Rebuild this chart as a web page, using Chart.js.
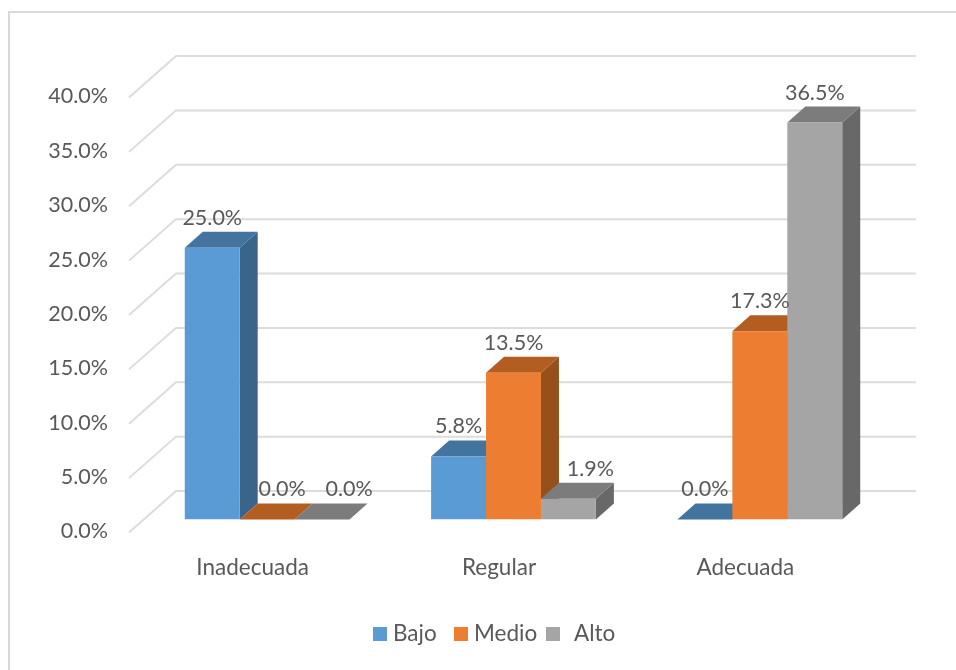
<!DOCTYPE html>
<html>
<head>
<meta charset="utf-8">
<title>Chart</title>
<script src="https://cdn.jsdelivr.net/npm/chart.js@4/dist/chart.umd.js"></script>
<style>
    html, body { margin: 0; padding: 0; background: #fff; overflow: hidden; }
    #wrap { position: relative; width: 956px; height: 670px; }
    #frame { position: absolute; left: 8px; top: 11px; right: 0; bottom: 0; border-left: 2px solid #d9d9d9; border-top: 2px solid #d9d9d9; }
    canvas { position: absolute; left: 0; top: 0; filter: blur(0.4px); }
</style>
</head>
<body>
<div id="wrap">
    <div id="frame"></div>
    <canvas id="chart" width="956" height="670"></canvas>
</div>
<script>
const categories = ['Inadecuada', 'Regular', 'Adecuada'];
const bajo = [25.0, 5.8, 0.0];
const medio = [0.0, 13.5, 17.3];
const alto = [0.0, 1.9, 36.5];
const seriesNames = ['Bajo', 'Medio', 'Alto'];

const FONT = 'Lato, "Liberation Sans", sans-serif';
const TEXT = '#595959';
const GRID = '#dcdcdc';
const frontColors = ['#5b9bd5', '#ed7d31', '#a5a5a5'];
const topColors = ['#43749f', '#b35e20', '#7c7c7c'];
const sideColors = ['#3a6489', '#95501c', '#686868'];

// depth of the fake 3d bars
const DEPTH_X = 18;
const DEPTH_Y = 16;

// some labels in the original are pushed right so they clear the bars
const labelNudge = [[0, 0, 0], [15, 0, 0], [27, 22, 0]];

const legendX = [[373, 393], [454, 474], [546, 574]];
const LEGEND_Y = 634;

function poly(ctx, pts, color) {
    ctx.fillStyle = color;
    ctx.beginPath();
    pts.forEach((p, i) => i ? ctx.lineTo(p[0], p[1]) : ctx.moveTo(p[0], p[1]));
    ctx.closePath();
    ctx.fill();
}

const wallPlugin = {
    id: 'wall',
    beforeDatasetsDraw(chart) {
        const ctx = chart.ctx;
        const y = chart.scales.y;
        ctx.save();
        ctx.strokeStyle = GRID;
        ctx.lineWidth = 2;
        y.ticks.forEach(t => {
            const py = y.getPixelForValue(t.value);
            ctx.beginPath();
            ctx.moveTo(129, py + 13);
            ctx.lineTo(176, py - 28.5);
            ctx.lineTo(916, py - 28.5);
            ctx.stroke();
        });
        ctx.restore();

        // side and top faces, left to right so nearer bars cover the others
        for (let c = 0; c < categories.length; c++) {
            for (let d = 0; d < chart.data.datasets.length; d++) {
                const bar = chart.getDatasetMeta(d).data[c];
                const l = bar.x - bar.width / 2;
                const r = bar.x + bar.width / 2;
                poly(ctx, [[r, bar.y], [r + DEPTH_X, bar.y - DEPTH_Y], [r + DEPTH_X, bar.base - DEPTH_Y], [r, bar.base]], sideColors[d]);
                poly(ctx, [[l, bar.y], [l + DEPTH_X, bar.y - DEPTH_Y], [r + DEPTH_X, bar.y - DEPTH_Y], [r, bar.y]], topColors[d]);
            }
        }
    },
    afterDatasetsDraw(chart) {
        const ctx = chart.ctx;
        ctx.save();
        ctx.font = '21.5px ' + FONT;
        ctx.fillStyle = TEXT;
        ctx.textAlign = 'center';
        ctx.textBaseline = 'middle';
        chart.data.datasets.forEach((ds, d) => {
            chart.getDatasetMeta(d).data.forEach((bar, c) => {
                ctx.fillText(ds.data[c].toFixed(1) + '%', bar.x + labelNudge[d][c], bar.y - 30);
            });
        });

        // legend
        ctx.textAlign = 'left';
        ctx.font = '22.5px ' + FONT;
        chart.data.datasets.forEach((ds, d) => {
            ctx.fillStyle = frontColors[d];
            ctx.fillRect(legendX[d][0], LEGEND_Y - 7, 14, 14);
            ctx.fillStyle = TEXT;
            ctx.fillText(ds.label, legendX[d][1], LEGEND_Y);
        });
        ctx.restore();
    }
};

new Chart(document.getElementById('chart'), {
    type: 'bar',
    data: {
        labels: categories,
        datasets: [
            { label: seriesNames[0], data: bajo, backgroundColor: frontColors[0] },
            { label: seriesNames[1], data: medio, backgroundColor: frontColors[1] },
            { label: seriesNames[2], data: alto, backgroundColor: frontColors[2] }
        ]
    },
    options: {
        responsive: false,
        animation: false,
        layout: { padding: { left: 0, right: 73, top: 84.5, bottom: 70.5 } },
        datasets: { bar: { barPercentage: 1, categoryPercentage: 0.669 } },
        plugins: { legend: { display: false }, tooltip: { enabled: false } },
        scales: {
            x: {
                grid: { display: false, drawTicks: false },
                border: { display: false },
                afterFit(scale) { scale.height = 80; },
                ticks: { font: { family: FONT, size: 22.5 }, color: TEXT, padding: 35, labelOffset: -14.5, maxRotation: 0 }
            },
            y: {
                min: 0,
                max: 40,
                grid: { display: false, drawTicks: false },
                border: { display: false },
                afterFit(scale) { scale.width = 144; },
                ticks: {
                    stepSize: 5,
                    font: { family: FONT, size: 21.5 },
                    color: TEXT,
                    padding: 36,
                    labelOffset: 12,
                    callback: v => v.toFixed(1) + '%'
                }
            }
        }
    },
    plugins: [wallPlugin]
});
</script>
</body>
</html>
